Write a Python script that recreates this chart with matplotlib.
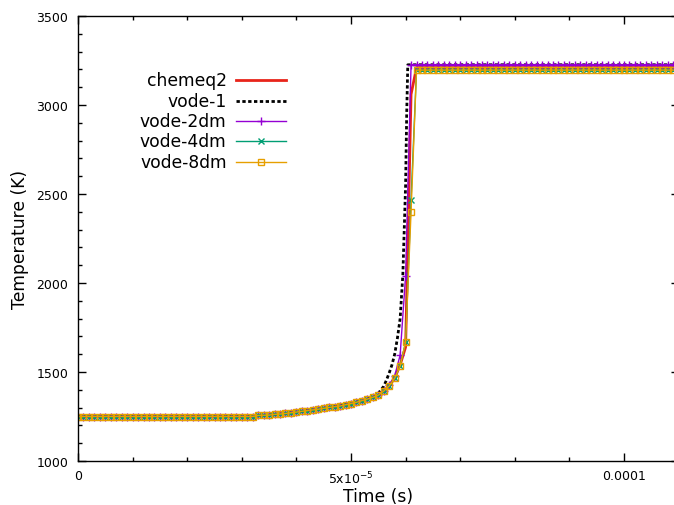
import numpy as np
import matplotlib
matplotlib.use("Agg")
import matplotlib.pyplot as plt
from matplotlib.ticker import MultipleLocator, FixedLocator, FixedFormatter


# muestreo comun cada 1e-6 s (0 .. 110e-6)
t_us = list(range(0, 111))

# tramo comun antes de la ignicion (0 .. 58 us)
t_pre = ([1250] * 33 +
         [1256, 1257, 1258, 1262, 1264, 1267, 1271, 1275, 1279, 1283,
          1287, 1291, 1296, 1301, 1305, 1309, 1316, 1323, 1330, 1339,
          1348, 1358, 1370, 1393, 1422, 1465])

chemeq2 = t_pre + [1540, 1640, 3060] + [3210] * 49
vode_2dm = t_pre[:57] + [1428, 1478, 1595, 2041] + [3227] * 50
vode_4dm = t_pre + [1533, 1668, 2468] + [3196] * 49
vode_8dm = t_pre + [1533, 1668, 2400] + [3196] * 49

# vode-1 con paso mas fino cerca de la ignicion
t1_us = list(range(0, 55)) + [55, 56, 56.5, 57, 57.5, 58, 58.5, 59, 59.5,
                               60, 60.2, 60.4] + list(range(61, 111))
vode_1 = t_pre[:55] + [1380, 1420, 1455, 1495, 1540, 1600, 1690, 1800, 2050,
                       2550, 2950, 3226] + [3226] * 50

series = [
    ("chemeq2", t_us, chemeq2, dict(color="#e8241a", lw=2.0)),
    ("vode-1", t1_us, vode_1, dict(color="black", lw=2.0, linestyle=(0, (1.2, 0.9)))),
    ("vode-2dm", t_us, vode_2dm, dict(color="#9400d3", lw=1.0, marker="+", ms=6, mew=1.0)),
    ("vode-4dm", t_us, vode_4dm, dict(color="#009e73", lw=1.0, marker="x", ms=5, mew=1.0)),
    ("vode-8dm", t_us, vode_8dm, dict(color="#e69f00", lw=1.0, marker="s", ms=5,
                                      mfc="none", mew=1.0)),
]

fig = plt.figure(figsize=(6.74, 5.06), dpi=100)
ax = fig.add_axes([78 / 674, 44 / 506, 600.6 / 674, 445 / 506])

for nombre, tt, yy, estilo in series:
    ax.plot(np.array(tt) * 1e-6, yy, **estilo)

ax.set_xlim(0, 1.1e-4)
ax.set_ylim(1000, 3500)

ax.xaxis.set_major_locator(FixedLocator([0, 5e-5, 1e-4]))
ax.xaxis.set_major_formatter(FixedFormatter(["0", "5x10$^{-5}$", "0.0001"]))
ax.xaxis.set_minor_locator(MultipleLocator(1e-5))
ax.yaxis.set_major_locator(MultipleLocator(500))
ax.yaxis.set_minor_locator(MultipleLocator(100))

ax.tick_params(which="both", direction="in", top=True, right=True, labelsize=9)
ax.tick_params(which="major", length=6, width=1.0)
ax.tick_params(which="minor", length=3, width=1.0)
ax.tick_params(axis="x", pad=6)
ax.tick_params(axis="y", pad=7)
for s in ax.spines.values():
    s.set_linewidth(1.0)

ax.set_xlabel("Time (s)", fontsize=12.3, labelpad=1.0)
ax.set_ylabel("Temperature (K)", fontsize=12.3, labelpad=5.5)

# leyenda estilo gnuplot: texto alineado a la derecha y muestra a la derecha
filas_y = [0.8569, 0.8097, 0.7634, 0.7184, 0.6719]
for (nombre, tt, yy, estilo), fy in zip(series, filas_y):
    ax.text(0.2476, fy, nombre, transform=ax.transAxes, ha="right", va="center",
            fontsize=12.3)
    linea = {k: v for k, v in estilo.items() if k not in ("marker", "ms", "mew", "mfc")}
    ax.plot([0.263, 0.3463], [fy, fy], transform=ax.transAxes, clip_on=False, **linea)
    if "marker" in estilo:
        ax.plot([0.3047], [fy], transform=ax.transAxes, clip_on=False,
                linestyle="none", color=estilo["color"], marker=estilo["marker"],
                ms=estilo["ms"], mew=estilo["mew"], mfc=estilo.get("mfc", estilo["color"]))

fig.savefig("out.png", dpi=100)
